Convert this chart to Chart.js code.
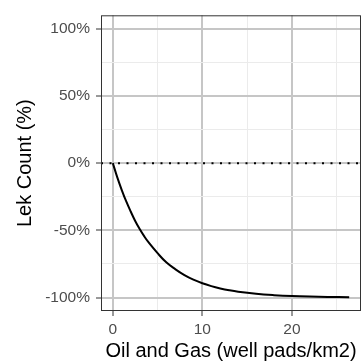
<!DOCTYPE html>
<html>
<head>
<meta charset="utf-8">
<script src="https://cdn.jsdelivr.net/npm/chart.js@4.4.0/dist/chart.umd.min.js"></script>
<style>
  html, body { margin: 0; padding: 0; background: #fff; }
  #wrap { width: 362px; height: 363px; }
</style>
</head>
<body>
<div id="wrap"><canvas id="chart"></canvas></div>
<script>
// well pad density (pads/km2) and predicted change in lek count (%)
const wellPads = [0, 0.5, 1, 1.5, 2, 2.5, 3, 3.5, 4, 5, 6, 7, 8, 9, 10, 11, 12, 13, 14, 16, 18, 20, 22, 24, 26.4];
const lekChange = [0, -10.6, -20, -28.5, -36, -43, -49, -54.3, -59, -67, -74, -79, -83.3, -86.7, -89.4, -91.5, -93.2, -94.6, -95.7, -97.2, -98.2, -98.9, -99.3, -99.5, -99.7];
const xTickLabels = [0, 10, 20];
const yTickLabels = [-100, -50, 0, 50, 100];

const xMin = -1.32, xMax = 27.72;
const yMin = -110, yMax = 110;

const font = 'Liberation Sans, Arial, Helvetica, sans-serif';
const majorGrid = '#c6c6c6';
const minorGrid = '#ebebeb';

// box around the plotting panel
const panelBorder = {
    id: 'panelBorder',
    afterDraw(chart) {
        const a = chart.chartArea;
        const ctx = chart.ctx;
        ctx.save();
        ctx.strokeStyle = '#333333';
        ctx.lineWidth = 1;
        ctx.strokeRect(a.left + 0.5, a.top + 0.5, a.right - a.left - 1, a.bottom - a.top - 1);
        ctx.restore();
    }
};

const points = wellPads.map((x, i) => ({x: x, y: lekChange[i]}));

const ctx = document.getElementById('chart').getContext('2d');
new Chart(ctx, {
    type: 'line',
    data: {
        datasets: [{
            data: points,
            borderColor: '#000000',
            borderWidth: 2,
            pointRadius: 0,
            tension: 0.4,
            fill: false,
            order: 1
        }, {
            // reference line at no change
            data: [{x: xMin, y: 0}, {x: xMax, y: 0}],
            borderColor: '#000000',
            borderWidth: 2,
            borderDash: [2, 6.5],
            pointRadius: 0,
            fill: false,
            order: 2
        }]
    },
    plugins: [panelBorder],
    options: {
        responsive: true,
        maintainAspectRatio: false,
        animation: false,
        layout: {padding: {top: 15, right: 1, left: 0, bottom: 0}},
        plugins: {legend: {display: false}, tooltip: {enabled: false}},
        scales: {
            x: {
                type: 'linear',
                min: xMin,
                max: xMax,
                afterFit: scale => { scale.height = 52; },
                border: {display: false},
                grid: {
                    color: c => xTickLabels.includes(c.tick.value) ? majorGrid : minorGrid,
                    lineWidth: c => xTickLabels.includes(c.tick.value) ? 2 : 1,
                    tickColor: c => xTickLabels.includes(c.tick.value) ? '#333333' : 'rgba(0,0,0,0)',
                    tickLength: 5,
                    tickWidth: 1
                },
                ticks: {
                    stepSize: 5,
                    includeBounds: false,
                    maxRotation: 0,
                    padding: 4,
                    color: '#4d4d4d',
                    font: {family: font, size: 15.5},
                    callback: v => xTickLabels.includes(v) ? String(v) : ''
                },
                title: {
                    display: true,
                    text: 'Oil and Gas (well pads/km2)',
                    color: '#000000',
                    font: {family: font, size: 20},
                    padding: {top: 0, bottom: 0}
                }
            },
            y: {
                type: 'linear',
                min: yMin,
                max: yMax,
                afterFit: scale => { scale.width = 101; },
                border: {display: false},
                grid: {
                    color: c => yTickLabels.includes(c.tick.value) ? majorGrid : minorGrid,
                    lineWidth: c => yTickLabels.includes(c.tick.value) ? 2 : 1,
                    tickColor: c => yTickLabels.includes(c.tick.value) ? '#333333' : 'rgba(0,0,0,0)',
                    tickLength: 5,
                    tickWidth: 1
                },
                ticks: {
                    stepSize: 25,
                    includeBounds: false,
                    padding: 6,
                    color: '#4d4d4d',
                    font: {family: font, size: 15.5},
                    callback: v => yTickLabels.includes(v) ? v + '%' : ''
                },
                title: {
                    display: true,
                    text: 'Lek Count (%)',
                    color: '#000000',
                    font: {family: font, size: 20},
                    padding: {top: 13.5, bottom: 0}
                }
            }
        }
    }
});
</script>
</body>
</html>
